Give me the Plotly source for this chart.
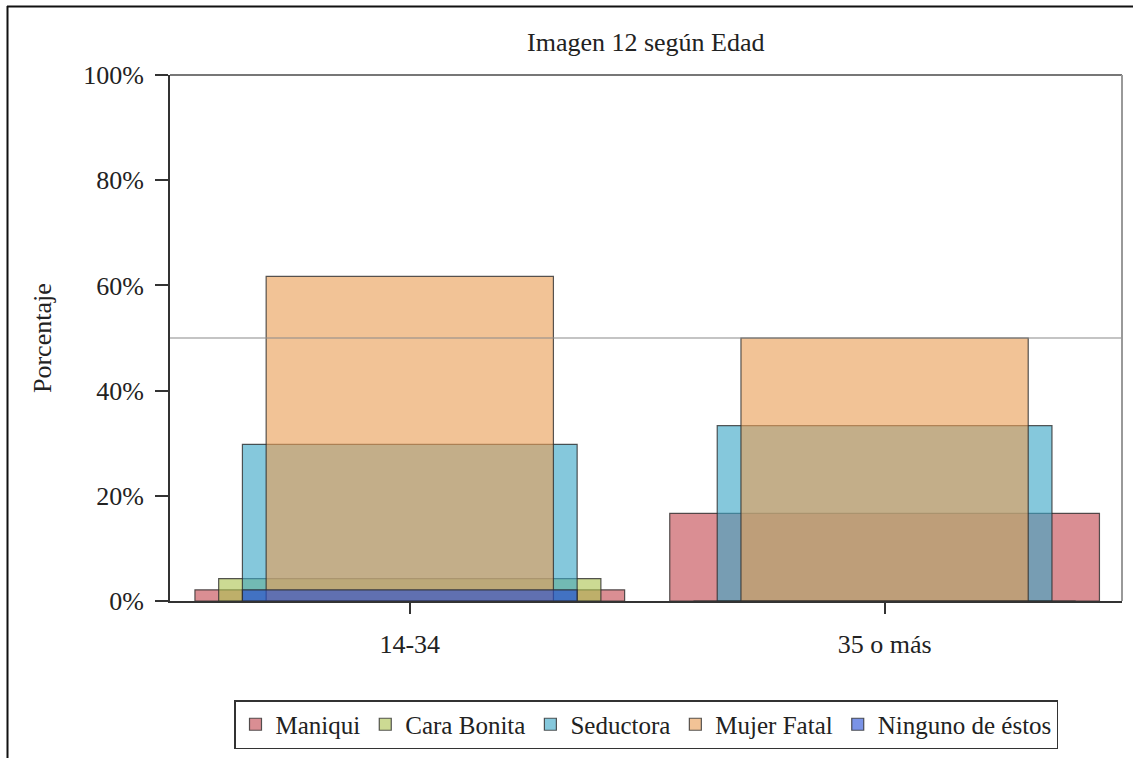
import plotly.graph_objects as go

# Age groups and response categories
edades = ["14-34", "35 o más"]
respuestas = ["Maniqui", "Cara Bonita", "Seductora", "Mujer Fatal", "Ninguno de éstos"]

# Percentages per response, one value per age group
maniqui = [2.13, 16.67]
cara_bonita = [4.26, 0.0]
seductora = [29.79, 33.33]
mujer_fatal = [61.70, 50.0]
ninguno = [2.13, 0.0]

valores = [maniqui, cara_bonita, seductora, mujer_fatal, ninguno]
anchos = [0.905, 0.805, 0.705, 0.605, 0.705]
colores = [
    "rgba(196,72,80,0.62)",
    "rgba(172,196,80,0.62)",
    "rgba(58,166,198,0.62)",
    "rgba(234,158,86,0.62)",
    "rgba(40,80,215,0.62)",
]

W, H = 1133, 758
L, R, T, B = 170, 11, 75, 157
PW, PH = W - L - R, H - T - B

def px_x(p):
    return (p - L) / PW

def px_y(p):
    return (H - B - p) / PH

FONT = "Liberation Serif"
FS = 26

fig = go.Figure()
for nombre, vals, ancho, color in zip(respuestas, valores, anchos, colores):
    fig.add_trace(go.Bar(
        x=edades, y=vals, name=nombre, width=ancho,
        marker=dict(color=color, line=dict(color="rgba(45,45,45,0.8)", width=1.2)),
    ))

fig.update_layout(
    width=W, height=H,
    margin=dict(l=L, r=R, t=T, b=B, autoexpand=False),
    barmode="overlay",
    paper_bgcolor="white", plot_bgcolor="white",
    font=dict(family=FONT, size=FS, color="#222"),
    showlegend=True,
    legend=dict(
        orientation="h", x=0.5, xanchor="center", y=px_y(749), yanchor="bottom",
        bordercolor="#333", borderwidth=1.5, bgcolor="white",
        font=dict(family=FONT, size=25, color="#222"),
        traceorder="normal", itemwidth=30,
    ),
    xaxis=dict(
        type="category", range=[-0.505, 1.5],
        showline=True, linecolor="#333", linewidth=2,
        ticks="outside", ticklen=11, tickwidth=1.5, tickcolor="#333",
        ticklabelstandoff=8, showgrid=False, zeroline=False,
        tickfont=dict(family=FONT, size=FS, color="#222"),
    ),
    yaxis=dict(
        range=[0, 100], tickvals=[0, 20, 40, 60, 80, 100],
        ticktext=["0%", "20%", "40%", "60%", "80%", "100%"],
        showline=True, linecolor="#333", linewidth=2,
        ticks="outside", ticklen=13, tickwidth=1.5, tickcolor="#333",
        ticklabelstandoff=6, showgrid=False, zeroline=False,
        tickfont=dict(family=FONT, size=FS, color="#222"),
    ),
    annotations=[
        dict(text="Imagen 12 según Edad", xref="paper", yref="paper",
             x=0.5, y=px_y(43), xanchor="center", yanchor="middle",
             showarrow=False, font=dict(family=FONT, size=FS, color="#222")),
        dict(text="Porcentaje", xref="paper", yref="paper",
             x=px_x(42), y=0.5, xanchor="center", yanchor="middle",
             textangle=-90, showarrow=False,
             font=dict(family=FONT, size=FS, color="#222")),
    ],
    shapes=[
        # 50% reference line
        dict(type="line", xref="paper", yref="y", x0=0, x1=1, y0=50, y1=50,
             line=dict(color="#8a8a8a", width=1.2), layer="above"),
        # top and right edges of the plot frame
        dict(type="line", xref="paper", yref="paper", x0=0, x1=1, y0=1, y1=1,
             line=dict(color="#777", width=2)),
        dict(type="line", xref="paper", yref="paper", x0=1, x1=1, y0=0, y1=1,
             line=dict(color="#999", width=2)),
        # outer page frame (top and left)
        dict(type="line", xref="paper", yref="paper",
             x0=px_x(7), x1=px_x(W + 5), y0=px_y(6.5), y1=px_y(6.5),
             line=dict(color="#111", width=2)),
        dict(type="line", xref="paper", yref="paper",
             x0=px_x(7.5), x1=px_x(7.5), y0=px_y(6), y1=px_y(H + 5),
             line=dict(color="#111", width=2)),
    ],
)

fig.write_html("out.html")
